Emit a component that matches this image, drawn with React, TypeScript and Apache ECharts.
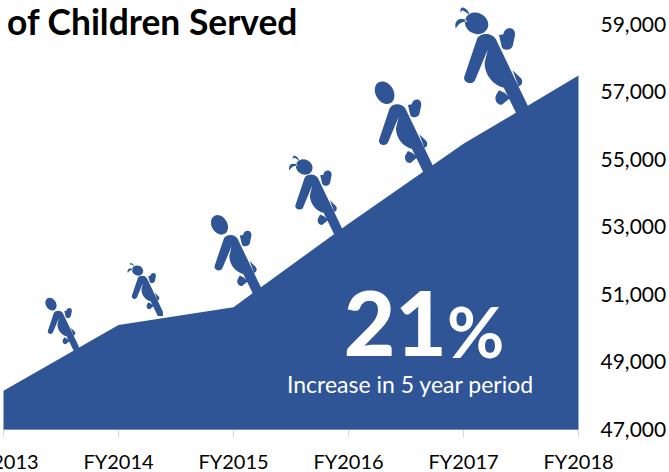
import React, { useEffect, useRef } from "react";
import * as echarts from "echarts";

const categories = ["FY2013", "FY2014", "FY2015", "FY2016", "FY2017", "FY2018"];
const childrenServed = [48155, 50100, 50630, 53100, 55465, 57490];

const BLUE = "#2F5597";
const FONT = "Lato";

// Climbing child silhouette, shared limbs and torso.
const limbs =
  "M33,195 L65,100 C72,85 100,82 112,100 L196,275 L198,300 L170,300 L132,222 C105,215 84,190 84,160 L92,126 L60,203 C54,216 30,210 33,195 Z " +
  "M120,90 L131,88 C134,68 162,68 160,90 L155,115 C152,130 130,130 127,120 Z " +
  "M154,178 L175,198 C182,208 176,218 169,218 Z " +
  "M120,228 L135,235 L147,248 L128,264 C115,266 106,250 114,238 Z";
const boyHead =
  "M68,84 C80.9,76.5 83.3,56.6 73.4,39.5 C63.5,22.4 44.9,14.5 32,22 C19.1,29.5 16.7,49.4 26.6,66.5 C36.5,83.6 55.1,91.5 68,84 Z";
const girlHead =
  "M91,74 C97.1,61 89.9,44.6 75,37.4 C60.1,30.2 43.1,35 37,48 C30.9,61 38.1,77.4 53,84.6 C67.9,91.8 84.9,87 91,74 Z";
const pigtails =
  "M24,34 C22,24 26,20 32,22 C38,24 44,30 47,40 C40,34 32,30 28,28 Z " +
  "M12,74 C8,62 14,50 24,50 C30,50 36,50 42,56 C32,56 20,58 12,74 Z";

echarts.graphic.registerShape("childBoy", echarts.graphic.extendPath(`${limbs} ${boyHead}`, {}));
echarts.graphic.registerShape("childGirl", echarts.graphic.extendPath(`${limbs} ${girlHead} ${pigtails}`, {}));

const climbers = [
  { type: "childBoy", x: 41.5, y: 294, scale: 0.19 },
  { type: "childGirl", x: 125.5, y: 259, scale: 0.19 },
  { type: "childBoy", x: 205, y: 209.5, scale: 0.29 },
  { type: "childGirl", x: 286, y: 149.6, scale: 0.285 },
  { type: "childBoy", x: 368, y: 75, scale: 1 / 3 },
  { type: "childGirl", x: 451, y: -1, scale: 0.4 },
];

export default function App() {
  const ref = useRef<HTMLDivElement>(null);

  useEffect(() => {
    const chart = echarts.init(ref.current!, undefined, { renderer: "svg" });
    chart.setOption({
      animation: false,
      title: {
        text: "of Children Served",
        left: 7,
        top: 6,
        padding: 0,
        textStyle: { fontFamily: FONT, fontWeight: "bold", fontSize: 35.4, lineHeight: 30, color: "#000" },
      },
      grid: { left: 3.5, right: 90.5, top: 24.5, bottom: 42.3, outerBoundsMode: "none" },
      xAxis: {
        type: "category",
        data: categories,
        boundaryGap: false,
        axisLine: { lineStyle: { color: "#D9D9D9", width: 1 } },
        axisTick: { show: true, length: 8, lineStyle: { color: "#D9D9D9" } },
        axisLabel: { color: "#000", fontFamily: FONT, fontSize: 20, margin: 21 },
      },
      yAxis: {
        type: "value",
        position: "right",
        min: 47000,
        max: 59000,
        interval: 2000,
        axisLine: { show: false },
        axisTick: { show: false },
        splitLine: { show: false },
        axisLabel: {
          margin: 22,
          formatter: (v: number) => `{tick|${v.toLocaleString("en-US")}}`,
          rich: {
            tick: { color: "#000", fontFamily: FONT, fontSize: 21, padding: [0, 0, 3, 0] },
          },
        },
      },
      series: [
        {
          type: "line",
          data: childrenServed,
          symbol: "none",
          lineStyle: { width: 0 },
          areaStyle: { color: BLUE, opacity: 1 },
        },
      ],
      graphic: [
        ...climbers.map((c) => ({
          type: c.type,
          x: c.x,
          y: c.y,
          scaleX: c.scale,
          scaleY: c.scale,
          style: { fill: BLUE },
        })),
        {
          type: "text",
          x: 424,
          y: 335,
          z: 100,
          style: {
            text: "{num|21}{pct|%}",
            fill: "#fff",
            textAlign: "center",
            textVerticalAlign: "middle",
            rich: {
              num: { fill: "#fff", fontFamily: FONT, fontWeight: 900, fontSize: 89, lineHeight: 62, verticalAlign: "bottom" },
              pct: { fill: "#fff", fontFamily: FONT, fontWeight: 700, fontSize: 70, lineHeight: 62, verticalAlign: "bottom" },
            },
          },
        },
        {
          type: "text",
          x: 410,
          y: 384,
          z: 100,
          style: {
            text: "Increase in 5 year period",
            fill: "#fff",
            font: `23px ${FONT}`,
            textAlign: "center",
            textVerticalAlign: "middle",
          },
        },
      ],
    });
    return () => chart.dispose();
  }, []);

  return <div ref={ref} style={{ position: "absolute", left: 0, top: 0, width: 669, height: 472 }} />;
}
